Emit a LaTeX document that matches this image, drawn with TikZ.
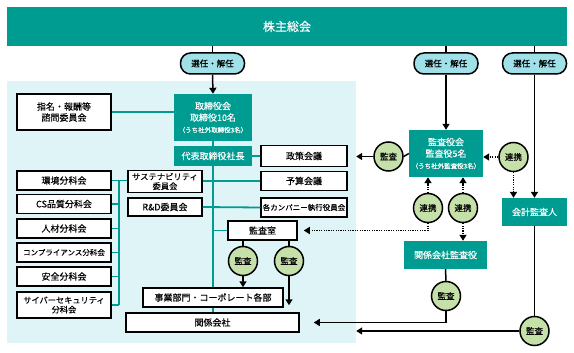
\documentclass[tikz,border=0pt]{standalone}
\usepackage{fontspec}
\setmainfont{Noto Sans CJK JP}[FakeBold=0.25]
\usetikzlibrary{arrows.meta}

\definecolor{brand}{RGB}{0,155,145}
\definecolor{pale}{RGB}{223,244,246}
\definecolor{pillblue}{RGB}{160,224,232}
\definecolor{leaf}{RGB}{198,224,170}

\begin{document}
\begin{tikzpicture}[x=1pt,y=-1pt,
  font=\fontsize{9}{11}\selectfont,
  box/.style={draw,line width=1.5pt,fill=white,minimum height=19pt,inner sep=1pt,align=center},
  tealbox/.style={fill=brand,text=white,minimum height=19pt,inner sep=1pt,align=center},
  pill/.style={draw,line width=1.5pt,fill=pillblue,rounded corners=10pt,minimum width=64pt,minimum height=21pt,inner sep=1pt,font=\fontsize{8.5}{10}\selectfont},
  badge/.style={circle,draw,line width=1.5pt,fill=leaf,minimum size=29pt,inner sep=0pt,font=\fontsize{8.5}{10}\selectfont},
  tline/.style={brand,line width=1.8pt},
  kline/.style={line width=1.5pt},
  karrow/.style={line width=1.5pt,-{Triangle[length=6pt,width=7pt]}},
  dotarrow/.style={line width=1.4pt,dash pattern=on 1.2pt off 1.2pt,-{Triangle[length=6pt,width=7pt]}}
]
  \useasboundingbox (0,0) rectangle (574,353);

  \node[fill=pale,minimum width=349pt,minimum height=262pt,inner sep=0pt] (area) at (181.5,212) {};
  \node[tealbox,minimum width=560pt,minimum height=39pt,font=\fontsize{12}{14}\selectfont] (gm) at (287,26.5) {株主総会};

  \node[pill] (elect1) at (212.5,63.5) {選任・解任};
  \node[pill] (elect2) at (446,63.5) {選任・解任};
  \node[pill] (elect3) at (534.5,63.5) {選任・解任};

  % board side
  \node[tealbox,minimum width=78pt,minimum height=47pt,font=\fontsize{9}{11.5}\selectfont] (board) at (213,117.5) {取締役会\\取締役10名\\{\fontsize{6.5}{8}\selectfont （うち社外取締役3名）}};
  \node[tealbox,minimum width=78pt,minimum height=20pt] (pres) at (213,156) {代表取締役社長};
  \node[box,minimum width=94pt,minimum height=36pt] (nomcom) at (64,112) {指名・報酬等\\諮問委員会};

  \node[box,minimum width=86pt,minimum height=21pt] (policy) at (304,156) {政策会議};
  \node[box,minimum width=86pt] (budget) at (304,181) {予算会議};
  \node[box,minimum width=86pt,font=\fontsize{7.5}{9}\selectfont] (company) at (304,207.5) {各カンパニー執行役員会};
  \node[box,minimum width=69pt] (auditoff) at (262.5,230.5) {監査室};

  \node[box,minimum width=74pt,minimum height=22pt,font=\fontsize{8.3}{9.5}\selectfont] (sust) at (165,181.5) {サステナビリティ\\委員会};
  \node[box,minimum width=74pt,minimum height=18pt] (rnd) at (165,207) {R\&D委員会};

  \node[box,minimum width=94pt] (env) at (64,180.5) {環境分科会};
  \node[box,minimum width=94pt] (cs) at (64,204) {CS品質分科会};
  \node[box,minimum width=94pt] (hr) at (64,228.5) {人材分科会};
  \node[box,minimum width=94pt,font=\fontsize{7.5}{9}\selectfont] (comp) at (64,252.5) {コンプライアンス分科会};
  \node[box,minimum width=94pt] (safe) at (64,276.5) {安全分科会};
  \node[box,minimum width=94pt,minimum height=26pt,font=\fontsize{8.2}{9.5}\selectfont] (cyber) at (64,305) {サイバーセキュリティ\\分科会};
  \coordinate (bus) at (119,0);

  \node[box,minimum width=140pt] (biz) at (213,297.5) {事業部門・コーポレート各部};
  \node[box,minimum width=173pt] (affil) at (212.5,322.5) {関係会社};
  \node[badge] (aud1) at (243,261) {監査};
  \node[badge] (aud2) at (289,261) {監査};

  % auditor side
  \node[tealbox,minimum width=74pt,minimum height=47pt,font=\fontsize{9}{11.5}\selectfont] (kboard) at (446,153.5) {監査役会\\監査役5名\\{\fontsize{6.5}{8}\selectfont （うち社外監査役3名）}};
  \node[badge] (audA) at (388.5,156.5) {監査};
  \node[badge] (linkR) at (513.5,157) {連携};
  \node[badge] (link1) at (428,208) {連携};
  \node[badge] (link2) at (463,208) {連携};
  \node[tealbox,minimum width=83pt,minimum height=28pt] (subaud) at (445.5,255) {関係会社監査役};
  \node[tealbox,minimum width=65pt,minimum height=28pt] (extaud) at (534.5,212) {会計監査人};
  \node[badge] (audB) at (446,296) {監査};
  \node[badge] (audC) at (534.5,331) {監査};

  % election
  \draw[kline] (elect1.north) -- (elect1.north |- gm.south);
  \draw[kline] (elect2.north) -- (elect2.north |- gm.south);
  \draw[kline] (elect3.north) -- (elect3.north |- gm.south);
  \draw[karrow] (elect1.south) -- (board.north);
  \draw[karrow] (elect2.south) -- (kboard.north);
  \draw[karrow] (elect3.south) -- (extaud.north);

  % teal wiring
  \draw[tline] (nomcom.east) -- (nomcom.east -| board.west);
  \draw[tline] (board.south) -- (pres.north);
  \draw[tline] (pres.south) -- (pres.south |- biz.north);
  \draw[tline] (biz.south -| pres.south) -- (affil.north -| pres.south);
  \draw[tline] (pres.east) -- (policy.west);
  \draw[tline] (sust.east |- budget.west) -- (budget.west);
  \draw[tline] (rnd.east) -- (company.west);
  \draw[tline] (auditoff.west -| pres.south) -- (auditoff.west);
  \draw[tline] (env.east) -- (env.east -| sust.west);
  \draw[tline] (env.east -| bus) -- (cyber.east -| bus);
  \draw[tline] (cs.east) -- (cs.east -| bus);
  \draw[tline] (hr.east) -- (hr.east -| bus);
  \draw[tline] (comp.east) -- (comp.east -| bus);
  \draw[tline] (safe.east) -- (safe.east -| bus);
  \draw[tline] (cyber.east) -- (cyber.east -| bus);

  % audits
  \draw[kline] (auditoff.south -| aud1) -- (aud1.north);
  \draw[karrow] (aud1.south) -- (biz.north -| aud1);
  \draw[kline] (auditoff.south -| aud2) -- (aud2.north);
  \draw[karrow,shorten >=7pt] (aud2.south) -- (affil.north -| aud2);
  \draw[kline] (kboard.west) -- (audA.east);
  \draw[karrow] (audA.west) -- (area.east |- audA);
  \draw[kline] (subaud.south) -- (audB.north);
  \draw[karrow,shorten >=14pt] (audB.south) |- (affil.east);
  \draw[kline] (extaud.south) -- (audC.north);
  \draw[karrow] (audC.west) -- (area.east |- audC);

  % cooperation
  \draw[dotarrow] (linkR.west) -- (kboard.east |- linkR);
  \draw[dotarrow] (linkR.south) -- (extaud.north -| linkR);
  \draw[dotarrow] (link1.north) -- (kboard.south -| link1);
  \draw[dotarrow,shorten >=6pt] (link1.south) |- (auditoff.east);
  \draw[dotarrow] (link2.north) -- (kboard.south -| link2);
  \draw[dotarrow] (link2.south) -- (subaud.north -| link2);
\end{tikzpicture}
\end{document}
